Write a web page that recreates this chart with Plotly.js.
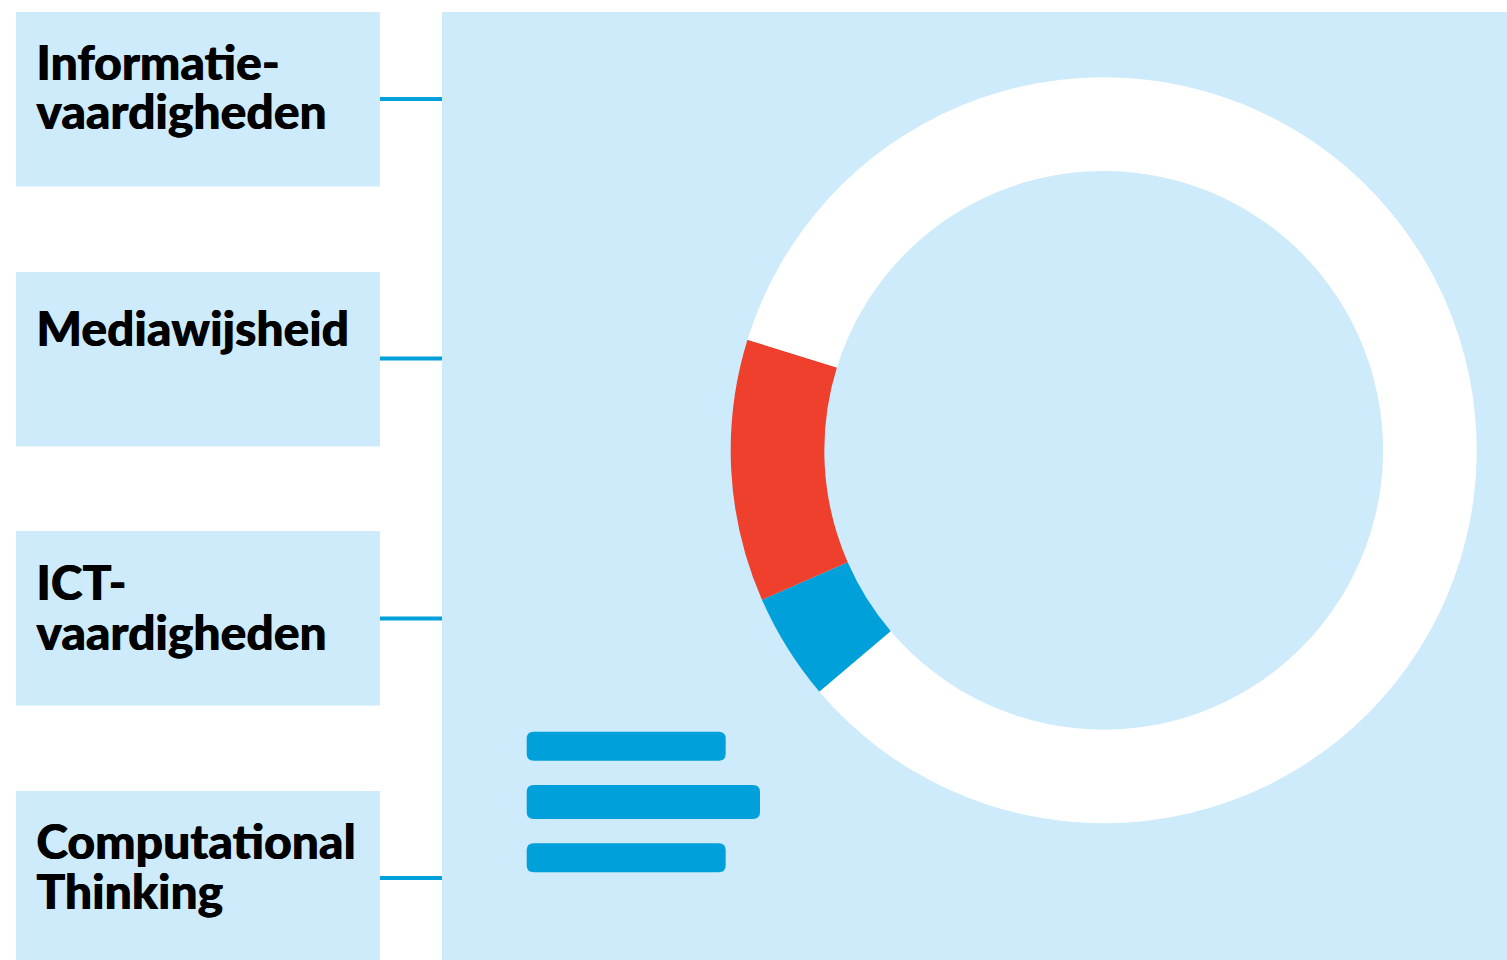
<!DOCTYPE html>
<html>
<head>
<meta charset="utf-8">
<script src="https://cdn.plot.ly/plotly-3.0.1.min.js"></script>
<style>
  html, body { margin: 0; padding: 0; background: #ffffff; }
  #chart { width: 1507px; height: 960px; }
</style>
</head>
<body>
<div id="chart"></div>
<script>
// ---- data ----
const sliceLabels = ["Blauw", "Rood", "Overig"];
const sliceValues = [4.65, 11.35, 84.0];
const sliceColors = ["#00a0da", "#ee402c", "#ffffff"];

const boxLabels = [
  ["Informatie-", "vaardigheden"],
  ["Mediawijsheid"],
  ["ICT-", "vaardigheden"],
  ["Computational", "Thinking"]
];

// ---- layout helpers (pixel -> paper) ----
const W = 1507, H = 960;
const px = x => x / W;
const py = y => 1 - y / H;

const LIGHT = "#cdebfa";
const BLUE = "#00a0da";

const shapes = [];
shapes.push({type: "rect", xref: "paper", yref: "paper", x0: px(442), x1: px(W), y0: py(12), y1: py(H),
  fillcolor: LIGHT, line: {width: 0}, layer: "below"});
const boxTops = [12, 272, 531, 791];
const boxBottoms = [186.5, 446.5, 705.5, 960];
const connY = [99, 358.5, 618.5, 878];
for (let i = 0; i < boxTops.length; i++) {
  shapes.push({type: "rect", xref: "paper", yref: "paper", x0: px(16), x1: px(380), y0: py(boxTops[i]), y1: py(boxBottoms[i]),
    fillcolor: LIGHT, line: {width: 0}, layer: "below"});
  shapes.push({type: "line", xref: "paper", yref: "paper", x0: px(380), x1: px(442), y0: py(connY[i]), y1: py(connY[i]),
    line: {color: BLUE, width: 4}, layer: "below"});
}
function roundRect(x0, y0, x1, y1, r) {
  const X = v => px(v), Y = v => py(v);
  return "M " + X(x0 + r) + "," + Y(y0) +
    " L " + X(x1 - r) + "," + Y(y0) +
    " Q " + X(x1) + "," + Y(y0) + " " + X(x1) + "," + Y(y0 + r) +
    " L " + X(x1) + "," + Y(y1 - r) +
    " Q " + X(x1) + "," + Y(y1) + " " + X(x1 - r) + "," + Y(y1) +
    " L " + X(x0 + r) + "," + Y(y1) +
    " Q " + X(x0) + "," + Y(y1) + " " + X(x0) + "," + Y(y1 - r) +
    " L " + X(x0) + "," + Y(y0 + r) +
    " Q " + X(x0) + "," + Y(y0) + " " + X(x0 + r) + "," + Y(y0) + " Z";
}
[[526.7, 731.7, 725.7, 760.7], [526.7, 785, 760, 819], [526.7, 843.3, 725.7, 872.3]].forEach(b => {
  shapes.push({type: "path", xref: "paper", yref: "paper", path: roundRect(b[0], b[1], b[2], b[3], 7),
    fillcolor: BLUE, line: {width: 0}, layer: "above"});
});

// text: one annotation per box; lines positioned by baseline
const baselines = [[79, 128], [345], [599, 648.5], [858, 908]];
const FSIZE = 48;
const ASCENT = 0.987 * FSIZE;
const FONT = {family: "Lato, 'Open Sans', sans-serif", size: FSIZE, color: "#000000", weight: 900,
  shadow: "0.7px 0 0 #000"};
const annotations = boxLabels.map((lines, i) => ({
  text: lines.join("<br>"), xref: "paper", yref: "paper", x: px(35), y: py(baselines[i][0] - ASCENT),
  xanchor: "left", yanchor: "top", align: "left", showarrow: false, font: FONT, borderpad: 0
}));

// ---- donut ----
const cx = 1103.7, cy = 450.3, R = 373;
const trace = {
  type: "pie",
  labels: sliceLabels,
  values: sliceValues,
  marker: {colors: sliceColors, line: {width: 0}},
  hole: 0.749,
  sort: false,
  direction: "clockwise",
  rotation: -130.35,
  textinfo: "none",
  hoverinfo: "label+percent",
  showlegend: false,
  domain: {x: [px(cx - R), px(cx + R)], y: [py(cy + R), py(cy - R)]}
};

const layout = {
  width: W, height: H,
  margin: {l: 0, r: 0, t: 0, b: 0},
  paper_bgcolor: "#ffffff",
  plot_bgcolor: "#ffffff",
  showlegend: false,
  shapes: shapes,
  annotations: annotations
};

Plotly.newPlot("chart", [trace], layout, {displayModeBar: false, staticPlot: true}).then(gd => {
  // tighten line spacing to match the reference
  gd.querySelectorAll(".annotation").forEach(g => {
    const idx = +g.getAttribute("data-index");
    const bl = baselines[idx];
    if (!bl) return;
    g.querySelectorAll("tspan.line").forEach((t, k) => {
      t.setAttribute("dy", (bl[k] - bl[0]) + "px");
    });
  });
});
</script>
</body>
</html>
